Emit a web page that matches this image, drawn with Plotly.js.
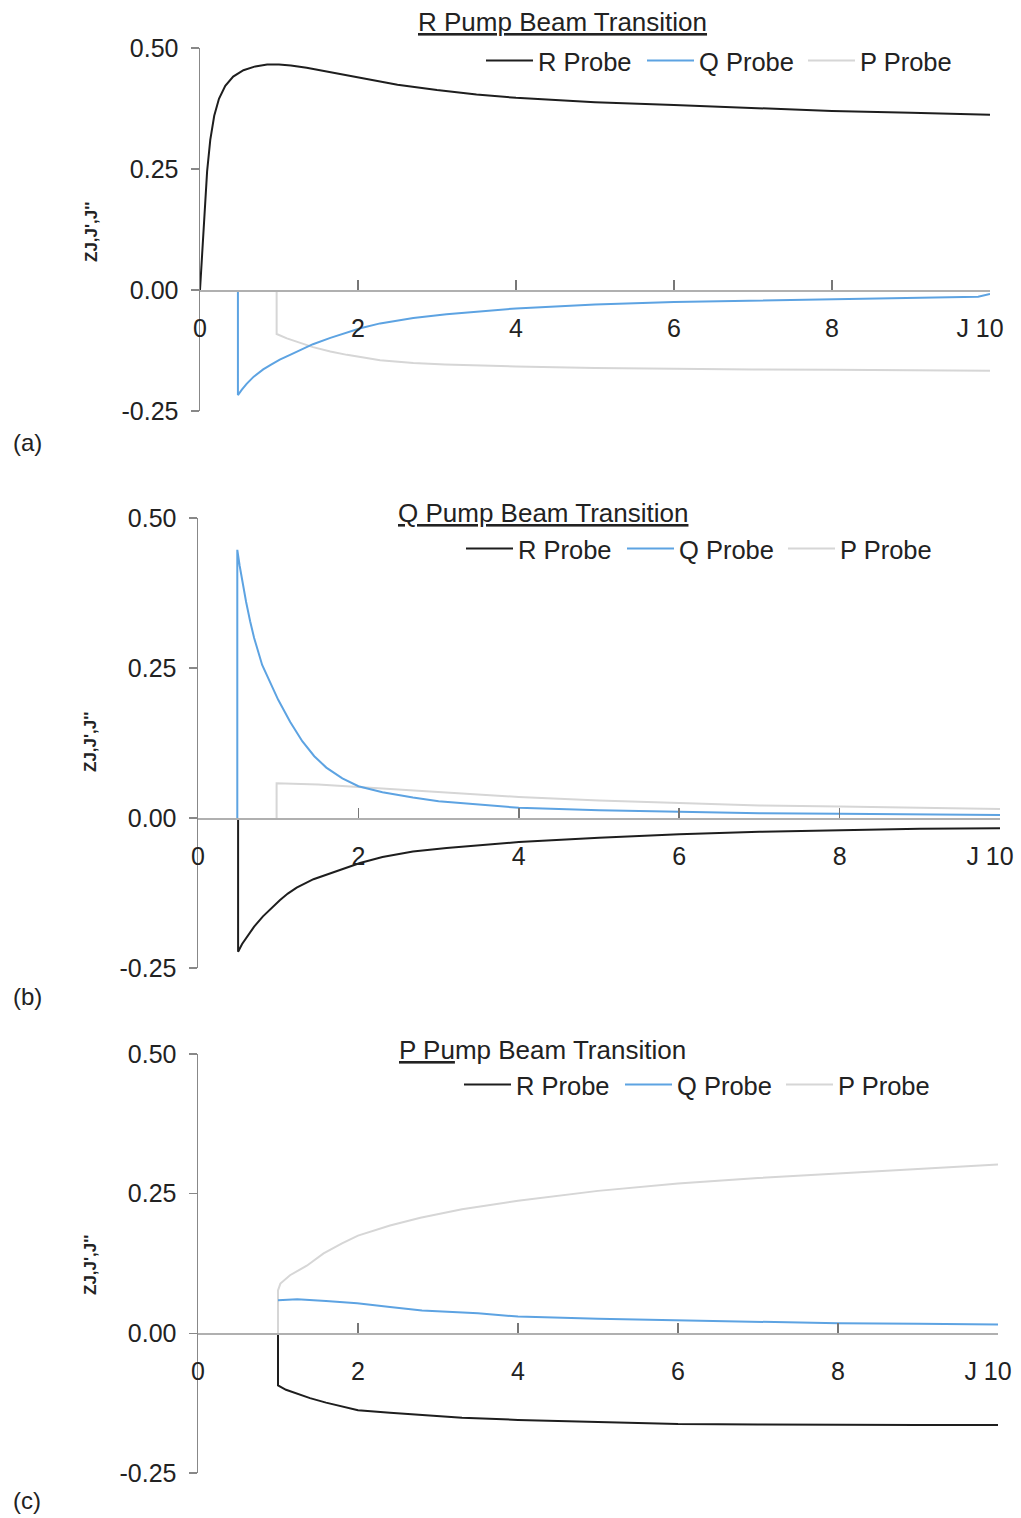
<!DOCTYPE html>
<html>
<head>
<meta charset="utf-8">
<script src="https://cdn.plot.ly/plotly-3.0.1.min.js"></script>
<style>html,body{margin:0;padding:0;background:#fff;}#chart{width:1021px;height:1518px;}</style>
</head>
<body>
<div id="chart"></div>
<script>
// ---------- DATA ----------
const seriesNames = ["R Probe", "Q Probe", "P Probe"];
const panelTitles = ["<u>R Pump Beam Transition</u>", "<u>Q Pump Beam Transition</u>", "<u>P Pu</u>mp Beam Transition"];
const panelLabels = ["(a)", "(b)", "(c)"];
const yTitle = "ZJ,J',J''";
const xTickVals = [0, 2, 4, 6, 8, 10];
const xTickText = ["0", "2", "4", "6", "8", "J 10"];
const yTickVals = [-0.25, 0, 0.25, 0.5];
const yTickText = ["-0.25", "0.00", "0.25", "0.50"];

// Panel (a): R pump
const aR_x = [0, 0.03, 0.06, 0.09, 0.13, 0.18, 0.24, 0.32, 0.42, 0.55, 0.7, 0.85, 1.0, 1.15, 1.35, 1.65, 2.0, 2.5, 3.0, 3.5, 4.0, 5.0, 6.0, 7.0, 8.0, 9.0, 10.0];
const aR_y = [0, 0.085, 0.17, 0.245, 0.31, 0.36, 0.395, 0.422, 0.441, 0.454, 0.462, 0.466, 0.466, 0.464, 0.459, 0.45, 0.438, 0.424, 0.413, 0.404, 0.397, 0.388, 0.382, 0.376, 0.370, 0.366, 0.362];
const aQ_x = [0.48, 0.48, 0.53, 0.59, 0.68, 0.80, 0.9, 1.01, 1.14, 1.27, 1.43, 1.65, 1.85, 2.03, 2.28, 2.70, 3.12, 3.54, 4.0, 4.5, 5.0, 6.0, 7.0, 8.0, 9.0, 9.85, 10.0];
const aQ_y = [0, -0.217, -0.206, -0.194, -0.179, -0.164, -0.154, -0.144, -0.134, -0.124, -0.112, -0.099, -0.088, -0.079, -0.069, -0.058, -0.050, -0.045, -0.038, -0.034, -0.030, -0.025, -0.022, -0.019, -0.017, -0.014, -0.008];
const aP_x = [0.97, 0.97, 1.1, 1.22, 1.43, 1.65, 1.86, 2.28, 2.70, 3.1, 3.54, 4.0, 5.0, 6.0, 7.0, 8.0, 9.0, 10.0];
const aP_y = [0, -0.091, -0.1, -0.107, -0.118, -0.127, -0.134, -0.145, -0.151, -0.154, -0.156, -0.158, -0.161, -0.163, -0.164, -0.165, -0.166, -0.167];

// Panel (b): Q pump
const bR_x = [0.5, 0.5, 0.55, 0.61, 0.7, 0.81, 0.92, 1.02, 1.12, 1.23, 1.44, 1.65, 2.02, 2.3, 2.68, 3.1, 3.52, 4.0, 5.0, 6.0, 7.0, 8.0, 9.0, 10.0];
const bR_y = [0, -0.223, -0.21, -0.198, -0.181, -0.164, -0.149, -0.137, -0.126, -0.116, -0.102, -0.092, -0.075, -0.065, -0.056, -0.050, -0.045, -0.040, -0.033, -0.027, -0.023, -0.020, -0.018, -0.017];
const bQ_x = [0.49, 0.49, 0.52, 0.55, 0.6, 0.65, 0.7, 0.8, 0.9, 1.0, 1.15, 1.3, 1.45, 1.6, 1.8, 2.0, 2.3, 2.68, 3.0, 3.52, 4.0, 5.0, 6.0, 7.0, 8.0, 9.0, 10.0];
const bQ_y = [0, 0.447, 0.42, 0.395, 0.36, 0.328, 0.3, 0.255, 0.225, 0.197, 0.16, 0.128, 0.103, 0.084, 0.066, 0.053, 0.043, 0.034, 0.028, 0.022, 0.017, 0.013, 0.010, 0.008, 0.007, 0.006, 0.005];
const bP_x = [0.98, 0.98, 1.5, 2.0, 2.5, 3.0, 4.0, 5.0, 6.0, 7.0, 8.0, 9.0, 10.0];
const bP_y = [0, 0.058, 0.056, 0.052, 0.047, 0.043, 0.035, 0.029, 0.025, 0.021, 0.019, 0.017, 0.015];

// Panel (c): P pump
const cR_x = [1.0, 1.0, 1.1, 1.25, 1.4, 1.6, 1.8, 2.0, 2.4, 2.78, 3.3, 4.0, 5.0, 6.0, 7.0, 8.0, 9.0, 10.0];
const cR_y = [0, -0.093, -0.101, -0.109, -0.116, -0.124, -0.131, -0.1375, -0.142, -0.146, -0.151, -0.155, -0.159, -0.1625, -0.163, -0.164, -0.164, -0.164];
const cQ_x = [1.0, 1.24, 1.6, 1.99, 2.4, 2.8, 3.5, 4.0, 5.0, 6.0, 7.0, 8.0, 9.0, 10.0];
const cQ_y = [0.059, 0.061, 0.058, 0.054, 0.047, 0.041, 0.036, 0.030, 0.026, 0.023, 0.021, 0.018, 0.017, 0.016];
const cP_x = [1.0, 1.0, 1.03, 1.15, 1.36, 1.57, 1.8, 2.0, 2.4, 2.78, 3.3, 4.0, 5.0, 6.0, 7.0, 8.0, 9.0, 10.0];
const cP_y = [0, 0.077, 0.089, 0.104, 0.121, 0.143, 0.161, 0.175, 0.193, 0.207, 0.222, 0.2375, 0.255, 0.268, 0.278, 0.286, 0.294, 0.302];

// ---------- LAYOUT ----------
const W = 1021, H = 1518;
const FONT = "Liberation Sans, Arial, sans-serif";
const TXT = "#222";
const colors = { R: "#1e1e1e", Q: "#5da3e2", P: "#d6d6d6" };
const fx = p => p / W;
const fy = p => 1 - p / H;

const panels = [
  { x0: 200, x1: 990, top: 48, bot: 411, title: [562, 22], label: [27, 443], ytl: [92, 232], leg: [481, 61],
    data: { R: [aR_x, aR_y], Q: [aQ_x, aQ_y], P: [aP_x, aP_y] } },
  { x0: 198, x1: 1000, top: 518, bot: 968, title: [543, 513], label: [27, 996], ytl: [90, 742], leg: [461, 549],
    data: { R: [bR_x, bR_y], Q: [bQ_x, bQ_y], P: [bP_x, bP_y] } },
  { x0: 198, x1: 998, top: 1054, bot: 1473, title: [542, 1050], label: [27, 1500], ytl: [90, 1265], leg: [459, 1085],
    data: { R: [cR_x, cR_y], Q: [cQ_x, cQ_y], P: [cP_x, cP_y] } }
];

const lastIdx = xTickText.length - 1;
const mainTickText = xTickText.map((t, k) => (k === lastIdx ? "" : t));

const traces = [];
const layout = {
  width: W, height: H,
  margin: { l: 0, r: 0, t: 0, b: 0 },
  paper_bgcolor: "#fff", plot_bgcolor: "rgba(0,0,0,0)",
  font: { family: FONT, size: 25, color: TXT },
  showlegend: true,
  annotations: []
};

panels.forEach((p, i) => {
  const n = i === 0 ? "" : String(i + 1);
  const xa = "x" + n, ya = "y" + n;
  const xo = "x" + (i + 4);
  const legName = "legend" + n;
  const zeroPx = p.bot - (p.bot - p.top) / 3;

  layout["xaxis" + n] = {
    domain: [fx(p.x0), fx(p.x1)], range: [0, 10], anchor: "free", position: fy(zeroPx),
    showline: true, linecolor: "#b0b0b0", linewidth: 1.5,
    ticks: "inside", ticklen: 10, tickwidth: 1.5, tickcolor: "#777",
    tickvals: xTickVals, ticktext: mainTickText, tickfont: { size: 25, color: TXT },
    ticklabelstandoff: 15,
    showgrid: false, zeroline: false, fixedrange: true
  };
  // overlay axis carrying only the last label ("J 10"), whose "10" sits on the tick
  layout["xaxis" + (i + 4)] = {
    overlaying: xa, domain: [fx(p.x0), fx(p.x1)], range: [0, 10], anchor: "free", position: fy(zeroPx),
    side: "bottom",
    showline: false, ticks: "", tickvals: [xTickVals[lastIdx]], ticktext: [xTickText[lastIdx]],
    tickfont: { size: 25, color: TXT }, ticklabelstandoff: 21, ticklabelshift: -10,
    showgrid: false, zeroline: false, fixedrange: true
  };
  layout["yaxis" + n] = {
    domain: [fy(p.bot), fy(p.top)], range: [-0.25, 0.5], anchor: xa,
    showline: true, linecolor: "#888", linewidth: 1.5,
    ticks: "outside", ticklen: 8, tickwidth: 1.5, tickcolor: "#888",
    tickvals: yTickVals, ticktext: yTickText, tickfont: { size: 25, color: TXT },
    ticklabelstandoff: 7,
    showgrid: false, zeroline: false, fixedrange: true
  };
  layout[legName] = {
    orientation: "h", x: fx(p.leg[0]), y: fy(p.leg[1]), xanchor: "left", yanchor: "middle",
    font: { size: 25.5, color: TXT }, bgcolor: "rgba(0,0,0,0)", borderwidth: 0,
    itemwidth: 47, entrywidth: 99,
    traceorder: "normal", itemclick: false, itemdoubleclick: false
  };

  // draw order: P, Q, R (legend ranks keep R, Q, P order)
  [["P", 3], ["Q", 2], ["R", 1]].forEach(([k, rank]) => {
    traces.push({
      type: "scatter", mode: "lines",
      x: p.data[k][0], y: p.data[k][1],
      xaxis: xa, yaxis: ya,
      name: seriesNames[rank - 1], legend: legName, legendrank: rank,
      line: { color: colors[k], width: 2 },
      hoverinfo: "skip"
    });
  });
  // empty helper trace so the overlay label axis is created
  traces.push({ type: "scatter", mode: "lines", x: [], y: [], xaxis: xo, yaxis: ya, showlegend: false, hoverinfo: "skip" });

  layout.annotations.push(
    { xref: "paper", yref: "paper", x: fx(p.title[0]), y: fy(p.title[1]), xanchor: "center", yanchor: "middle",
      text: panelTitles[i], showarrow: false, font: { size: 26, color: TXT, family: FONT } },
    { xref: "paper", yref: "paper", x: fx(p.label[0]), y: fy(p.label[1]), xanchor: "center", yanchor: "middle",
      text: panelLabels[i], showarrow: false, font: { size: 24, color: TXT, family: FONT } },
    { xref: "paper", yref: "paper", x: fx(p.ytl[0]), y: fy(p.ytl[1]), xanchor: "center", yanchor: "middle",
      text: "<b>" + yTitle + "</b>", textangle: -90, showarrow: false, font: { size: 17, color: TXT, family: FONT } }
  );
});

Plotly.newPlot("chart", traces, layout, { displayModeBar: false, staticPlot: true });
</script>
</body>
</html>
